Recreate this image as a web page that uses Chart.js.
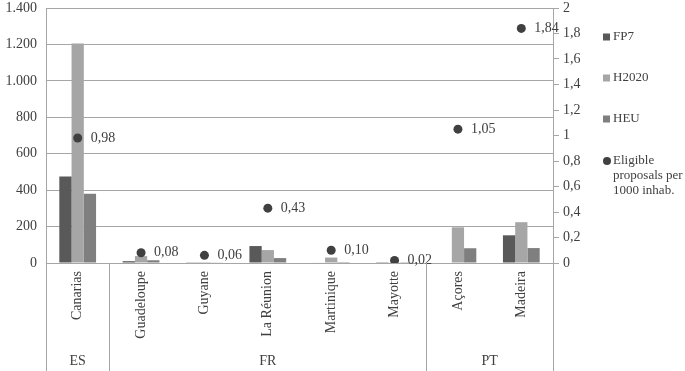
<!DOCTYPE html>
<html lang="en">
<head>
    <meta charset="UTF-8">
    <title>Outermost regions - FP7 / H2020 / HEU</title>
    <script src="https://cdn.jsdelivr.net/npm/chart.js"></script>
    <style>
        body { margin: 0; background: white; }
        #wrap { width: 685px; height: 371px; position: relative; }
    </style>
</head>
<body>
    <div id="wrap"><canvas id="chart"></canvas></div>
    <script>
        // data
        const regions = ['Canarias', 'Guadeloupe', 'Guyane', 'La Réunion', 'Martinique', 'Mayotte', 'Açores', 'Madeira'];
        const countries = ['ES', 'FR', 'PT'];
        const countrySizes = [1, 5, 2];
        const fp7 = [475, 10, 4, 93, 3, 1, 0, 152];
        const h2020 = [1205, 38, 5, 71, 30, 2, 196, 224];
        const heu = [380, 15, 2, 27, 5, 1, 81, 82];
        const eligible = [0.98, 0.08, 0.06, 0.43, 0.10, 0.02, 1.05, 1.84];

        const FONT = "'Liberation Serif', 'Times New Roman', serif";
        const TEXT = '#404040';
        const LINE = '#a6a6a6';
        const colors = { fp7: '#595959', h2020: '#a6a6a6', heu: '#7f7f7f', dot: '#404040' };

        function fmtComma(v) {
            return Math.round(v * 10) % 10 === 0 ? String(Math.round(v)) : v.toFixed(1).replace('.', ',');
        }
        function fmtThousands(v) {
            return String(v).replace(/\B(?=(\d{3})+(?!\d))/g, '.');
        }

        // labels next to the dots
        const dotLabels = {
            id: 'dotLabels',
            afterDatasetsDraw(chart) {
                const ctx = chart.ctx;
                const meta = chart.getDatasetMeta(3);
                ctx.save();
                ctx.font = '14px ' + FONT;
                ctx.fillStyle = TEXT;
                ctx.textBaseline = 'middle';
                meta.data.forEach((pt, i) => {
                    ctx.fillText(eligible[i].toFixed(2).replace('.', ','), pt.x + 13, pt.y);
                });
                ctx.restore();
            }
        };

        // two level category axis + legend
        const extras = {
            id: 'extras',
            afterDraw(chart) {
                const ctx = chart.ctx;
                const area = chart.chartArea;
                const xs = chart.scales.x;
                const H = chart.height;
                ctx.save();

                // rotated region names
                ctx.font = '14px ' + FONT;
                ctx.fillStyle = TEXT;
                regions.forEach((r, i) => {
                    ctx.save();
                    ctx.translate(xs.getPixelForValue(i), area.bottom + 8);
                    ctx.rotate(-Math.PI / 2);
                    ctx.textAlign = 'right';
                    ctx.textBaseline = 'middle';
                    ctx.fillText(r, 0, 0);
                    ctx.restore();
                });

                // separators + country names
                ctx.strokeStyle = LINE;
                ctx.lineWidth = 1;
                let start = 0;
                let edges = [area.left];
                countrySizes.forEach((n, g) => {
                    const end = start + n - 1;
                    const right = end === regions.length - 1 ? area.right
                        : (xs.getPixelForValue(end) + xs.getPixelForValue(end + 1)) / 2;
                    const left = edges[edges.length - 1];
                    edges.push(right);
                    ctx.textAlign = 'center';
                    ctx.textBaseline = 'middle';
                    ctx.fillText(countries[g], (left + right) / 2, 361);
                    start += n;
                });
                edges.forEach(x => {
                    const px = Math.round(x) + 0.5;
                    ctx.beginPath();
                    ctx.moveTo(px, area.bottom);
                    ctx.lineTo(px, H);
                    ctx.stroke();
                });

                // legend
                const lx = 603, tx = 613;
                ctx.font = '13px ' + FONT;
                ctx.textAlign = 'left';
                ctx.textBaseline = 'middle';
                const items = [['FP7', colors.fp7, 37], ['H2020', colors.h2020, 78], ['HEU', colors.heu, 119]];
                items.forEach(([t, c, y]) => {
                    ctx.fillStyle = c;
                    ctx.fillRect(lx, y - 3.5, 7, 7);
                    ctx.fillStyle = TEXT;
                    ctx.fillText(t, tx, y);
                });
                ctx.fillStyle = colors.dot;
                ctx.beginPath();
                ctx.arc(lx + 4, 161, 4, 0, Math.PI * 2);
                ctx.fill();
                ctx.fillStyle = TEXT;
                ['Eligible', 'proposals per', '1000 inhab.'].forEach((t, k) => {
                    ctx.fillText(t, tx, 161 + k * 15);
                });
                ctx.restore();
            }
        };

        new Chart(document.getElementById('chart'), {
            type: 'bar',
            data: {
                labels: regions,
                datasets: [
                    { label: 'FP7', data: fp7, backgroundColor: colors.fp7, yAxisID: 'y' },
                    { label: 'H2020', data: h2020, backgroundColor: colors.h2020, yAxisID: 'y' },
                    { label: 'HEU', data: heu, backgroundColor: colors.heu, yAxisID: 'y' },
                    {
                        type: 'line', label: 'Eligible proposals per 1000 inhab.', data: eligible,
                        yAxisID: 'y1', showLine: false, pointRadius: 4.5, pointBorderWidth: 0,
                        backgroundColor: colors.dot, borderColor: colors.dot, order: -1
                    }
                ]
            },
            options: {
                responsive: true,
                maintainAspectRatio: false,
                animation: false,
                events: [],
                layout: { padding: { top: 0, right: 92, left: 0, bottom: 0 } },
                datasets: { bar: { categoryPercentage: 0.58, barPercentage: 1 } },
                plugins: { legend: { display: false }, tooltip: { enabled: false } },
                scales: {
                    x: {
                        grid: { display: false },
                        ticks: { display: false },
                        border: { color: LINE },
                        afterFit: s => { s.height = 108; }
                    },
                    y: {
                        position: 'left',
                        min: 0, max: 1400,
                        ticks: { stepSize: 200, padding: 9, color: TEXT, font: { family: FONT, size: 14 }, callback: fmtThousands },
                        grid: { color: LINE, drawTicks: false },
                        border: { color: LINE },
                        // fixed width; keep top edge at 8px
                        afterFit: s => { s.width = 46; s.paddingTop = 8; s.paddingBottom = 0; }
                    },
                    y1: {
                        position: 'right',
                        min: 0, max: 2,
                        ticks: { stepSize: 0.2, padding: 4, color: TEXT, font: { family: FONT, size: 14 }, callback: fmtComma },
                        grid: { drawOnChartArea: false, color: LINE, tickLength: 6 },
                        border: { color: LINE },
                        afterFit: s => { s.width = 40; s.paddingTop = 8; s.paddingBottom = 0; }
                    }
                }
            },
            plugins: [dotLabels, extras]
        });
    </script>
</body>
</html>
